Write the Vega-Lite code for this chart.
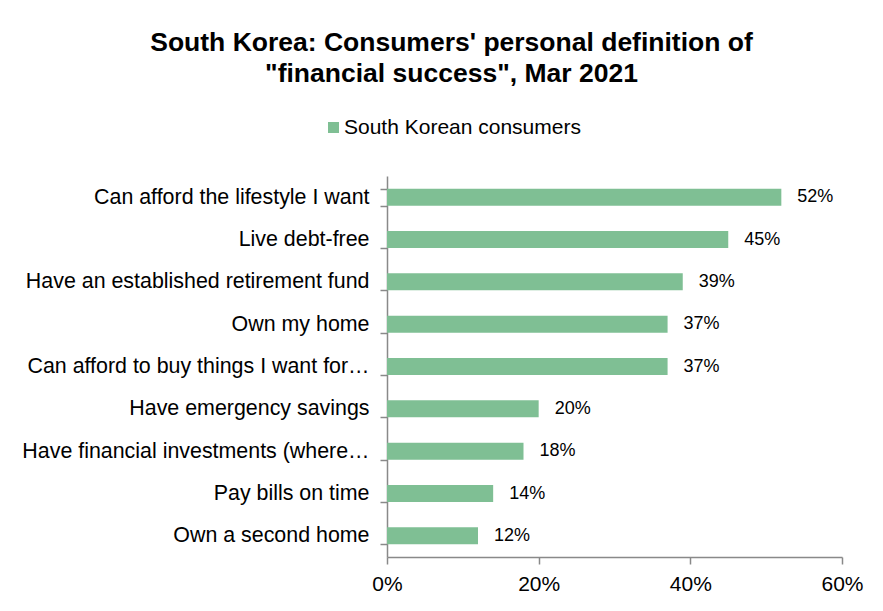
{
  "$schema": "https://vega.github.io/schema/vega-lite/v6.json",
  "width": 455,
  "height": 381,
  "autosize": {"type": "none"},
  "padding": {"left": 387, "top": 176, "right": 41, "bottom": 54},
  "background": "white",
  "config": {"font": "Liberation Sans", "view": {"stroke": null}},
  "title": {
    "text": ["South Korea: Consumers' personal definition of", "\"financial success\", Mar 2021"],
    "fontSize": 26.5,
    "fontWeight": "bold",
    "color": "black",
    "lineHeight": 31,
    "anchor": "middle",
    "dx": -163,
    "offset": 30
  },
  "data": {
    "values": [
      {"item": "Can afford the lifestyle I want", "pct": 0.52, "series": "South Korean consumers"},
      {"item": "Live debt-free", "pct": 0.45, "series": "South Korean consumers"},
      {"item": "Have an established retirement fund", "pct": 0.39, "series": "South Korean consumers"},
      {"item": "Own my home", "pct": 0.37, "series": "South Korean consumers"},
      {"item": "Can afford to buy things I want for…", "pct": 0.37, "series": "South Korean consumers"},
      {"item": "Have emergency savings", "pct": 0.20, "series": "South Korean consumers"},
      {"item": "Have financial investments (where…", "pct": 0.18, "series": "South Korean consumers"},
      {"item": "Pay bills on time", "pct": 0.14, "series": "South Korean consumers"},
      {"item": "Own a second home", "pct": 0.12, "series": "South Korean consumers"}
    ]
  },
  "encoding": {
    "y": {
      "field": "item",
      "type": "nominal",
      "sort": null,
      "scale": {"paddingInner": 0.6, "paddingOuter": 0.3},
      "axis": {
        "title": null,
        "tickBand": "extent",
        "tickSize": 7,
        "tickColor": "#898989",
        "tickWidth": 1.5,
        "domainColor": "#898989",
        "domainWidth": 1.5,
        "labelFontSize": 21.4,
        "labelColor": "black",
        "labelLimit": 400,
        "labelPadding": 11,
        "labelOffset": 0,
        "labelAlign": "right",
        "labelExpr": "datum.label"
      }
    },
    "x": {
      "field": "pct",
      "type": "quantitative",
      "scale": {"domain": [0, 0.6]},
      "axis": {
        "title": null,
        "format": ".0%",
        "values": [0, 0.2, 0.4, 0.6],
        "grid": false,
        "labelFlush": false,
        "tickSize": 7,
        "tickColor": "#898989",
        "tickWidth": 1.5,
        "domainColor": "#898989",
        "domainWidth": 1.5,
        "labelFontSize": 21,
        "labelColor": "black",
        "labelPadding": 9
      }
    }
  },
  "layer": [
    {
      "mark": {"type": "bar"},
      "encoding": {
        "color": {
          "field": "series",
          "type": "nominal",
          "scale": {"range": ["#7fbf94"]},
          "legend": {
            "orient": "none",
            "legendX": -64,
            "legendY": -59,
            "title": null,
            "symbolType": "square",
            "symbolSize": 121,
            "symbolStrokeWidth": 0,
            "labelFontSize": 21,
            "labelColor": "black",
            "labelOffset": 0,
            "labelLimit": 400
          }
        }
      }
    },
    {
      "mark": {"type": "text", "align": "left", "dx": 16, "fontSize": 18, "color": "black"},
      "encoding": {
        "text": {"field": "pct", "type": "quantitative", "format": ".0%"}
      }
    }
  ]
}
